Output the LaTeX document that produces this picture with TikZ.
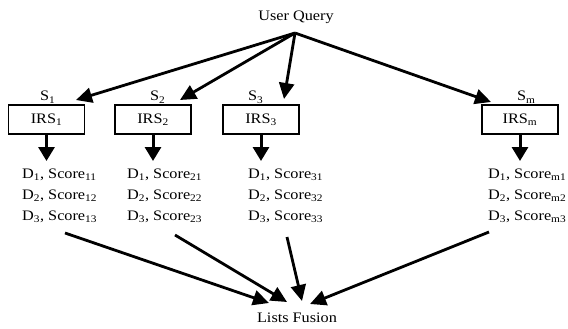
\documentclass[tikz,border=0pt]{standalone}
\usepackage{fontspec}
\setmainfont{Liberation Serif}[FakeStretch=1.12]
\usetikzlibrary{arrows.meta}
\begin{document}
\begin{tikzpicture}[x=1pt,y=-1pt,
  txt/.style={inner sep=0pt,font=\fontsize{14.5}{17}\selectfont},
  irsbox/.style={draw,line width=1.3pt,minimum width=76pt,minimum height=29pt,inner sep=0pt,font=\fontsize{14.5}{17}\selectfont},
  arr/.style={line width=2.8pt,-{Triangle[length=16pt,width=15pt]}},
  darr/.style={line width=3pt,-{Triangle[length=14pt,width=16pt]}}]
\useasboundingbox (0,0) rectangle (568,329);
% top
\node[txt] (uq) at (296,17) {User Query};
\coordinate (q) at (295,33);
% boxes
\node[irsbox] (b1) at (46.5,119.5) {IRS\textsubscript{1}};
\node[irsbox] (b2) at (153,119.5) {IRS\textsubscript{2}};
\node[irsbox] (b3) at (261,119.5) {IRS\textsubscript{3}};
\node[irsbox] (bm) at (520,119.5) {IRS\textsubscript{m}};
% S labels
\node[txt,anchor=base west] (s1) at (40,101) {S\textsubscript{1}};
\node[txt,anchor=base west] (s2) at (150,101) {S\textsubscript{2}};
\node[txt,anchor=base west] (s3) at (248,101) {S\textsubscript{3}};
\node[txt,anchor=base west] (sm) at (517,101) {S\textsubscript{m}};
% tips of query arrows
\coordinate (t1) at (76,100);
\coordinate (t2) at (180,100);
\coordinate (t3) at (284,99);
\coordinate (tm) at (491,102);
\foreach \t in {t1,t2,t3,tm} \draw[arr] (q) -- (\t);
% down arrows
\coordinate (e1) at (46.5,161);
\coordinate (e2) at (153,161);
\coordinate (e3) at (261,161);
\coordinate (em) at (520,161);
\draw[darr] (b1.south) -- (e1);
\draw[darr] (b2.south) -- (e2);
\draw[darr] (b3.south) -- (e3);
\draw[darr] (bm.south) -- (em);
% lists
\foreach \n/\x/\s in {1/22/1,2/127/2,3/248/3,m/488/m}{
  \node[txt,anchor=base west] (l\n a) at (\x,178) {D\textsubscript{1}, Score\textsubscript{\s 1}};
  \node[txt,anchor=base west] (l\n b) at (\x,199) {D\textsubscript{2}, Score\textsubscript{\s 2}};
  \node[txt,anchor=base west] (l\n c) at (\x,220) {D\textsubscript{3}, Score\textsubscript{\s 3}};
}
% fusion
\node[txt] (lf) at (297,318) {Lists Fusion};
\coordinate (o1) at (65,233);
\coordinate (o2) at (175,235);
\coordinate (o3) at (287,237);
\coordinate (om) at (489,232);
\coordinate (f1) at (269,303);
\coordinate (f2) at (287,302);
\coordinate (f3) at (302,301);
\coordinate (fm) at (310,304);
\draw[arr] (o1) -- (f1);
\draw[arr] (o2) -- (f2);
\draw[arr] (o3) -- (f3);
\draw[arr] (om) -- (fm);
\end{tikzpicture}
\end{document}
